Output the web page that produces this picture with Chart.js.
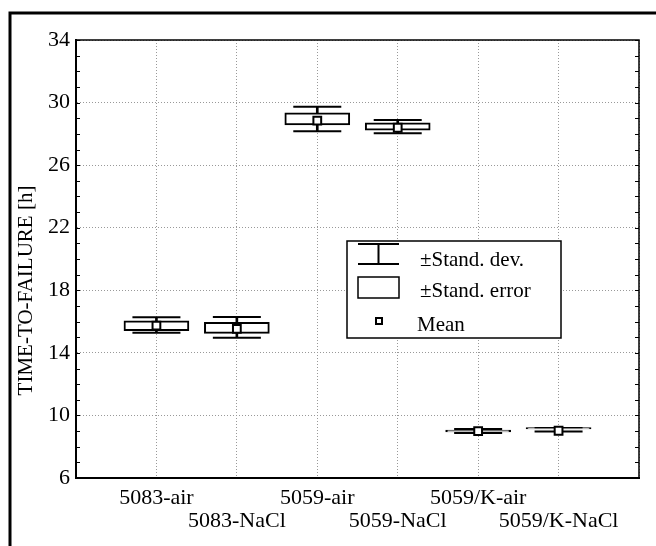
<!DOCTYPE html>
<html>
<head>
<meta charset="utf-8">
<script src="https://cdn.jsdelivr.net/npm/chart.js@4.4.0/dist/chart.umd.min.js"></script>
<style>
  html, body { margin: 0; padding: 0; background: #fff; }
  #wrap { width: 656px; height: 546px; }
</style>
</head>
<body>
<div id="wrap"><canvas id="boxChart" width="656" height="546"></canvas></div>
<script>
// groups along the x axis
const categories = ['5083-air', '5083-NaCl', '5059-air', '5059-NaCl', '5059/K-air', '5059/K-NaCl'];
// time-to-failure [h]
const means  = [15.74, 15.54, 28.84, 28.39, 9.00, 9.02];
const seLow  = [15.42, 15.25, 28.57, 28.23, 8.94, 9.13];
const seHigh = [16.04, 15.95, 29.35, 28.71, 9.06, 9.23];
const sdLow  = [15.29, 14.97, 28.16, 28.04, 8.87, 8.97];
const sdHigh = [16.27, 16.29, 29.74, 28.89, 9.13, 9.19];
// y axis
const yMin = 6, yMax = 34, yStep = 4;
const yTitle = 'TIME-TO-FAILURE [h]';
const legendLabels = ['±Stand. dev.', '±Stand. error', 'Mean'];

const serif = "'Liberation Serif', 'DejaVu Serif', serif";

const pts = arr => arr.map((v, i) => ({x: i + 1, y: v}));
const spans = (lo, hi) => lo.map((v, i) => ({x: i + 1, y: [v, hi[i]]}));

// outer frame, plot box, minor ticks and the legend box
const frame = {
  id: 'frame',
  beforeDraw(chart) {
    const ctx = chart.ctx;
    ctx.save();
    ctx.fillStyle = '#fff';
    ctx.fillRect(0, 0, chart.width, chart.height);
    ctx.strokeStyle = '#000';
    ctx.lineWidth = 3;
    ctx.beginPath();
    ctx.moveTo(10, chart.height);
    ctx.lineTo(10, 13);
    ctx.lineTo(chart.width, 13);
    ctx.stroke();
    ctx.restore();
  },
  afterDraw(chart) {
    const {ctx, chartArea: a, scales: {y}} = chart;
    ctx.save();
    ctx.strokeStyle = '#000';
    ctx.lineWidth = 1.5;
    ctx.beginPath();
    ctx.moveTo(a.left, a.top);
    ctx.lineTo(a.right, a.top);
    ctx.lineTo(a.right, a.bottom);
    ctx.stroke();

    // minor ticks, inside, on both sides
    ctx.lineWidth = 1;
    ctx.beginPath();
    for (let v = yMin; v <= yMax; v++) {
      const py = Math.round(y.getPixelForValue(v)) + 0.5;
      ctx.moveTo(a.left, py); ctx.lineTo(a.left + 4, py);
      ctx.moveTo(a.right, py); ctx.lineTo(a.right - 4, py);
    }
    ctx.stroke();

    // legend
    const lx = 347, ly = 241;
    ctx.fillStyle = '#fff';
    ctx.fillRect(lx, ly, 214, 97);
    ctx.lineWidth = 1.5;
    ctx.strokeRect(lx, ly, 214, 97);

    ctx.lineWidth = 2;
    ctx.beginPath();
    ctx.moveTo(lx + 11, ly + 3); ctx.lineTo(lx + 52, ly + 3);
    ctx.moveTo(lx + 11, ly + 23); ctx.lineTo(lx + 52, ly + 23);
    ctx.moveTo(lx + 31.5, ly + 3); ctx.lineTo(lx + 31.5, ly + 23);
    ctx.stroke();
    ctx.lineWidth = 1.5;
    ctx.strokeRect(lx + 11, ly + 36, 41, 21);
    ctx.lineWidth = 2;
    ctx.strokeRect(lx + 29, ly + 77, 6, 6);

    ctx.fillStyle = '#000';
    ctx.font = '21px ' + serif;
    ctx.textBaseline = 'alphabetic';
    ctx.fillText(legendLabels[0], lx + 73, ly + 25);
    ctx.fillText(legendLabels[1], lx + 73, ly + 56);
    ctx.fillText(legendLabels[2], lx + 70, ly + 90);
    ctx.restore();
  }
};

new Chart(document.getElementById('boxChart'), {
  type: 'bar',
  data: {
    datasets: [
      { // whisker stems
        type: 'bar', data: spans(sdLow, sdHigh), backgroundColor: '#000',
        borderWidth: 0, barThickness: 2, grouped: false, order: 4
      },
      { // upper caps
        type: 'line', data: pts(sdHigh), showLine: false, pointStyle: 'line',
        pointRadius: 24, pointBorderWidth: 2, pointBorderColor: '#000', borderColor: '#000', order: 3
      },
      { // lower caps
        type: 'line', data: pts(sdLow), showLine: false, pointStyle: 'line',
        pointRadius: 24, pointBorderWidth: 2, pointBorderColor: '#000', borderColor: '#000', order: 3
      },
      { // standard error boxes
        type: 'bar', data: spans(seLow, seHigh), backgroundColor: '#fff', borderColor: '#000',
        borderWidth: 2, borderSkipped: false, barThickness: 65, grouped: false, order: 2
      },
      { // means
        type: 'line', data: pts(means), showLine: false, pointStyle: 'rect',
        pointRadius: 5.5, pointBorderWidth: 2, pointBackgroundColor: '#fff',
        pointBorderColor: '#000', borderColor: '#000', order: 1
      }
    ]
  },
  options: {
    responsive: false,
    animation: false,
    devicePixelRatio: 1,
    layout: { autoPadding: false, padding: { top: 40, right: 17, left: 0, bottom: 0 } },
    plugins: { legend: { display: false }, tooltip: { enabled: false } },
    scales: {
      x: {
        type: 'linear',
        min: 0,
        max: categories.length + 1,
        offset: false,
        afterFit: s => { s.height = 68; },
        grid: { color: '#999', lineWidth: 1, drawTicks: false, offset: false },
        border: { display: true, color: '#000', width: 2, dash: [1, 2] },
        ticks: {
          stepSize: 1, autoSkip: false, maxRotation: 0, minRotation: 0, padding: 9,
          color: '#000', font: { family: serif, size: 22, lineHeight: 1.05 },
          callback: v => {
            const i = v - 1;
            if (!Number.isInteger(v) || i < 0 || i >= categories.length) return '';
            return i % 2 === 0 ? categories[i] : ['', categories[i]];
          }
        }
      },
      y: {
        min: yMin,
        max: yMax,
        afterFit: s => { s.width = 76; },
        grid: { color: '#999', lineWidth: 1, drawTicks: false },
        border: { display: true, color: '#000', width: 2, dash: [1, 2] },
        ticks: { stepSize: yStep, padding: 6, color: '#000', font: { family: serif, size: 22 } },
        title: {
          display: true,
          text: yTitle + ' '.repeat(12),
          color: '#000',
          font: { family: serif, size: 21 },
          padding: { top: 14, bottom: 0 }
        }
      }
    }
  },
  plugins: [frame]
});
</script>
</body>
</html>
